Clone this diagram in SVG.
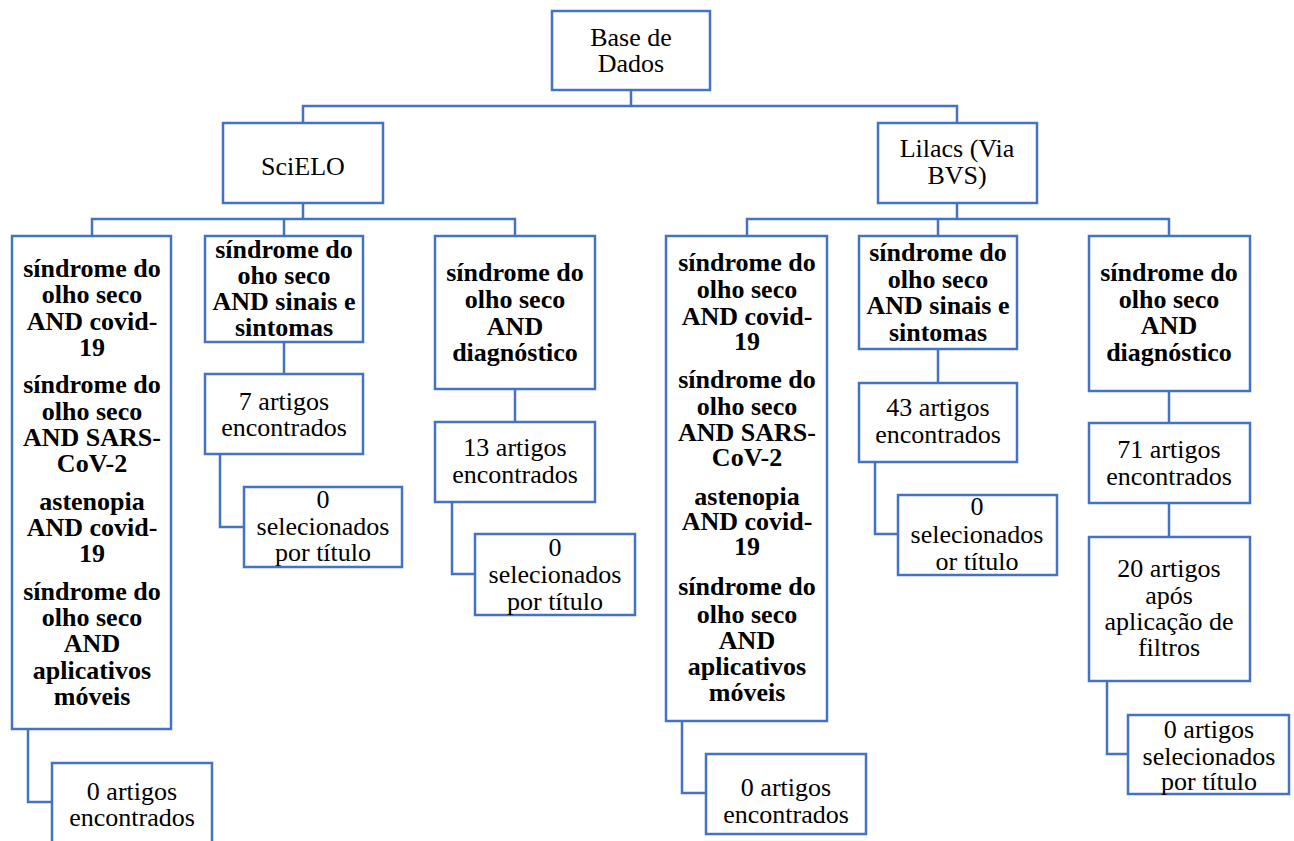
<svg xmlns="http://www.w3.org/2000/svg" width="1294" height="841" viewBox="0 0 1294 841">
<style>
.b{fill:#fff;stroke:#4472C4;stroke-width:2.5}
.c{fill:none;stroke:#4472C4;stroke-width:2.5}
text{font-family:"Liberation Serif","Times New Roman",serif;font-size:26px;fill:#000;text-anchor:middle}
.q{font-weight:bold}
</style>
<rect width="1294" height="841" fill="#fff"/>
<g id="connectors">
<path class="c" d="M631,90 V106 M303,123 V106 H957 V123"/>
<path class="c" d="M303,203 V219 M92,236 V219 H515 V236 M284,219 V236"/>
<path class="c" d="M957,203 V219 M747,236 V219 H1169 V236 M938,219 V236"/>
<path class="c" d="M284,342 V374 M220,454 V527 H244"/>
<path class="c" d="M515,389 V422 M452,502 V574 H475"/>
<path class="c" d="M28,729 V802 H52"/>
<path class="c" d="M938,349 V383 M875,462 V534 H898"/>
<path class="c" d="M1169,391 V423 M1169,503 V537 M1107,681 V754 H1128"/>
<path class="c" d="M682,721 V793 H706"/>
</g>
<g id="base"><rect class="b" x="552" y="11" width="158" height="79"/><text x="631" y="46">Base de</text><text x="631" y="72">Dados</text></g>
<g id="scielo"><rect class="b" x="223" y="123" width="160" height="80"/><text x="303" y="175">SciELO</text></g>
<g id="lilacs"><rect class="b" x="878" y="123" width="159" height="80"/><text x="957" y="157">Lilacs (Via</text><text x="957" y="184">BVS)</text></g>
<g id="s1"><rect class="b" x="12" y="236" width="159" height="493"/>
<text class="q" x="92" y="277">síndrome do</text><text class="q" x="92" y="303">olho seco</text><text class="q" x="92" y="330">AND covid-</text><text class="q" x="92" y="356">19</text>
<text class="q" x="92" y="393">síndrome do</text><text class="q" x="92" y="420">olho seco</text><text class="q" x="92" y="446">AND SARS-</text><text class="q" x="92" y="472">CoV-2</text>
<text class="q" x="92" y="510">astenopia</text><text class="q" x="92" y="536">AND covid-</text><text class="q" x="92" y="562">19</text>
<text class="q" x="92" y="600">síndrome do</text><text class="q" x="92" y="626">olho seco</text><text class="q" x="92" y="652">AND</text><text class="q" x="92" y="679">aplicativos</text><text class="q" x="92" y="705">móveis</text></g>
<g id="s2"><rect class="b" x="205" y="236" width="158" height="106"/>
<text class="q" x="284" y="258">síndrome do</text><text class="q" x="284" y="284">oho seco</text><text class="q" x="284" y="310">AND sinais e</text><text class="q" x="284" y="336">sintomas</text></g>
<g id="s3"><rect class="b" x="435" y="236" width="160" height="153"/>
<text class="q" x="515" y="281">síndrome do</text><text class="q" x="515" y="308">olho seco</text><text class="q" x="515" y="335">AND</text><text class="q" x="515" y="361">diagnóstico</text></g>
<g id="s2a"><rect class="b" x="205" y="374" width="158" height="80"/><text x="284" y="410">7 artigos</text><text x="284" y="436">encontrados</text></g>
<g id="s2b"><rect class="b" x="244" y="487" width="158" height="80"/><text x="323" y="508">0</text><text x="323" y="535">selecionados</text><text x="323" y="561">por título</text></g>
<g id="s3a"><rect class="b" x="435" y="422" width="160" height="80"/><text x="515" y="456">13 artigos</text><text x="515" y="483">encontrados</text></g>
<g id="s3b"><rect class="b" x="475" y="534" width="160" height="81"/><text x="555" y="556">0</text><text x="555" y="583">selecionados</text><text x="555" y="610">por título</text></g>
<g id="s1a"><rect class="b" x="52" y="763" width="160" height="90"/><text x="132" y="800">0 artigos</text><text x="132" y="826">encontrados</text></g>
<g id="l1"><rect class="b" x="666" y="236" width="161" height="485"/>
<text class="q" x="747" y="271">síndrome do</text><text class="q" x="747" y="298">olho seco</text><text class="q" x="747" y="325">AND covid-</text><text class="q" x="747" y="350">19</text>
<text class="q" x="747" y="388">síndrome do</text><text class="q" x="747" y="415">olho seco</text><text class="q" x="747" y="441">AND SARS-</text><text class="q" x="747" y="466">CoV-2</text>
<text class="q" x="747" y="505">astenopia</text><text class="q" x="747" y="530">AND covid-</text><text class="q" x="747" y="555">19</text>
<text class="q" x="747" y="595">síndrome do</text><text class="q" x="747" y="623">olho seco</text><text class="q" x="747" y="649">AND</text><text class="q" x="747" y="675">aplicativos</text><text class="q" x="747" y="701">móveis</text></g>
<g id="l2"><rect class="b" x="859" y="236" width="158" height="113"/>
<text class="q" x="938" y="261">síndrome do</text><text class="q" x="938" y="288">olho seco</text><text class="q" x="938" y="314">AND sinais e</text><text class="q" x="938" y="341">sintomas</text></g>
<g id="l3"><rect class="b" x="1089" y="236" width="161" height="155"/>
<text class="q" x="1169" y="281">síndrome do</text><text class="q" x="1169" y="308">olho seco</text><text class="q" x="1169" y="334">AND</text><text class="q" x="1169" y="361">diagnóstico</text></g>
<g id="l2a"><rect class="b" x="859" y="383" width="158" height="79"/><text x="938" y="416">43 artigos</text><text x="938" y="443">encontrados</text></g>
<g id="l2b"><rect class="b" x="898" y="495" width="159" height="80"/><text x="977" y="515">0</text><text x="977" y="543">selecionados</text><text x="977" y="570">or título</text></g>
<g id="l3a"><rect class="b" x="1089" y="423" width="161" height="80"/><text x="1169" y="458">71 artigos</text><text x="1169" y="485">encontrados</text></g>
<g id="l3b"><rect class="b" x="1089" y="537" width="161" height="144"/><text x="1169" y="577">20 artigos</text><text x="1169" y="604">após</text><text x="1169" y="630">aplicação de</text><text x="1169" y="656">filtros</text></g>
<g id="l3c"><rect class="b" x="1128" y="715" width="161" height="79"/><text x="1209" y="738">0 artigos</text><text x="1209" y="765">selecionados</text><text x="1209" y="790">por título</text></g>
<g id="l1a"><rect class="b" x="706" y="754" width="160" height="80"/><text x="786" y="796">0 artigos</text><text x="786" y="823">encontrados</text></g>
</svg>
